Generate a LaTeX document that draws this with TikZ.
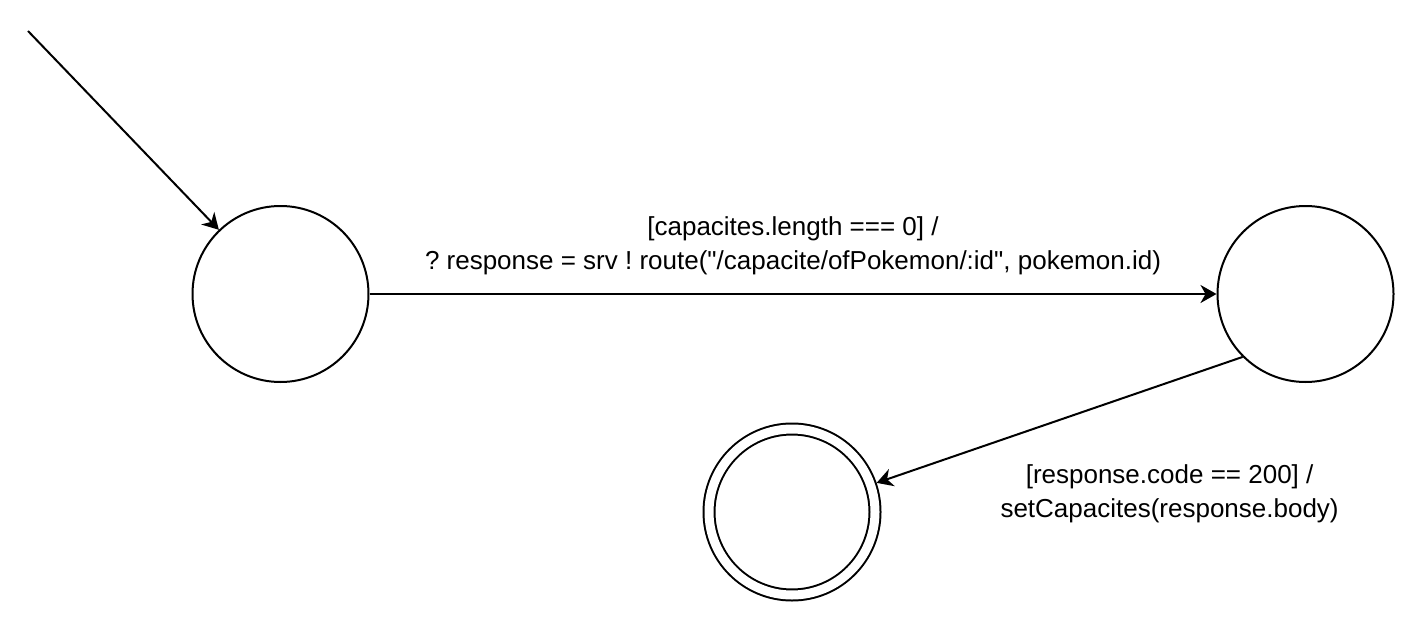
\documentclass[tikz,border=0pt]{standalone}
\usepackage{fontspec}
\setmainfont{Liberation Sans}
\newfontfamily\lblfont{Liberation Sans}
\usetikzlibrary{arrows.meta,positioning}
\tikzset{
  st/.style={circle, draw=black, line width=1pt, fill=white,
             minimum size=88pt, inner sep=0pt},
  stfinal/.style={st, double, double distance=4.5pt, minimum size=83pt,
                  outer sep=3.25pt},
  flow/.style={-{Stealth[length=8pt, width=9pt, inset=2.5pt]}, line width=1pt, draw=black},
  lbl/.style={font=\lblfont\fontsize{13}{17}\selectfont\frenchspacing, align=center, text=black, inner sep=0pt},
}

\begin{document}
\begin{tikzpicture}[x=0.5pt, y=-0.5pt]
  \useasboundingbox (0,0) rectangle (1423,626);

  % states
  \coordinate (start) at (28,31);
  \node[st] (idle) at (280.5,294) {};
  \node[st] (wait) at (1305.5,294) {};
  \node[stfinal] (done) at (792,512) {};

  % transitions
  \draw[flow] (start) -- (idle);
  \draw[flow] (idle) -- node[lbl, yshift=24pt] {[capacites.length === 0] /\\? response = srv ! route("/capacite/ofPokemon/:id", pokemon.id)} (wait);
  \draw[flow] (wait.225) -- node[lbl, xshift=55pt, yshift=-37pt] {[response.code == 200] /\\setCapacites(response.body)} (done.19);
\end{tikzpicture}
\end{document}
